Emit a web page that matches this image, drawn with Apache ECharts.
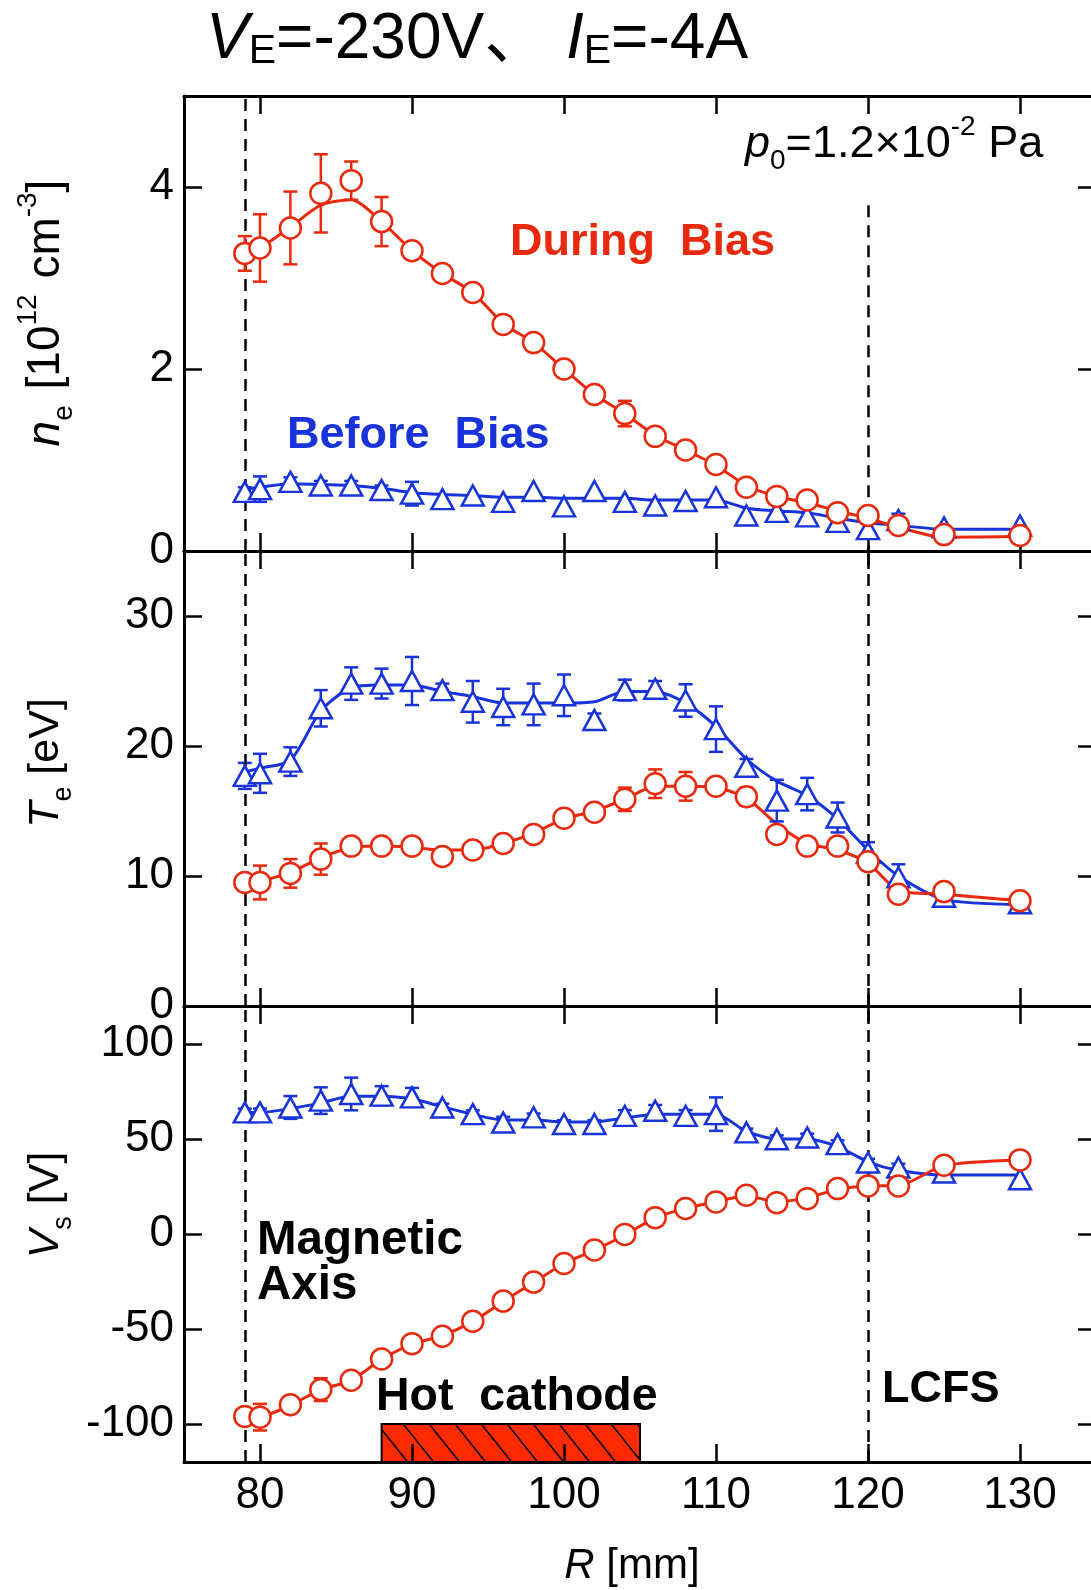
<!DOCTYPE html>
<html><head><meta charset="utf-8">
<script src="https://cdn.jsdelivr.net/npm/echarts@6/dist/echarts.min.js"></script>
<style>html,body{margin:0;padding:0;background:#fff}#c{width:1091px;height:1590px}</style>
</head><body><div id="c"></div>
<script>
// ---------- data ----------
const R = [79,80,82,84,86,88,90,92,94,96,98,100,102,104,106,108,110,112,114,116,118,120,122,125,130];
const xTickLabels = [80,90,100,110,120,130];

const neDuring    = [3.27,3.33,3.55,3.93,4.07,3.62,3.30,3.05,2.84,2.49,2.29,2.00,1.72,1.51,1.26,1.11,0.95,0.70,0.60,0.56,0.42,0.39,0.28,0.18,0.17];
const neDuringErr = [0.19,0.37,0.40,0.43,0.21,0.27,0.05,0,0,0,0,0,0,0.14,0,0,0,0,0,0,0.06,0,0,0,0];
const neDuringFit = [3.27,3.33,3.56,3.80,3.86,3.62,3.30,3.05,2.84,2.50,2.29,2.00,1.72,1.51,1.27,1.11,0.94,0.72,0.60,0.53,0.44,0.36,0.26,0.15,0.16];
const neBefore    = [0.65,0.68,0.76,0.72,0.72,0.67,0.63,0.57,0.61,0.54,0.66,0.49,0.66,0.54,0.50,0.55,0.59,0.39,0.43,0.38,0.32,0.24,0.34,0.26,0.28];
const neBeforeErr = [0.05,0.14,0.05,0.05,0.05,0.05,0.13,0,0,0,0,0,0,0,0,0,0,0,0,0,0.08,0,0.07,0,0];
const neBeforeFit = [0.68,0.70,0.74,0.73,0.72,0.69,0.64,0.62,0.61,0.59,0.59,0.58,0.58,0.58,0.56,0.56,0.56,0.47,0.44,0.42,0.36,0.31,0.28,0.24,0.24];

const teDuring    = [9.5,9.5,10.2,11.3,12.3,12.3,12.3,11.5,12.0,12.5,13.2,14.45,14.9,15.9,17.1,16.9,16.9,16.1,13.2,12.3,12.3,11.1,8.6,8.8,8.1];
const teDuringErr = [0.3,1.3,1.1,1.2,0.3,0.3,0.3,0,0,0.3,0,0,0.3,0.9,1.1,1.1,0.5,0.7,0,0.5,0,0.3,0,0,0];
const teDuringFit = [9.5,9.6,10.3,11.4,12.2,12.3,12.2,12.0,12.0,12.5,13.3,14.4,15.0,15.9,16.9,16.9,16.8,16.0,14.0,12.5,12.0,11.0,8.9,8.6,8.1];
const teBefore    = [17.7,17.9,18.8,22.9,24.8,24.8,25.0,24.3,23.4,23.0,23.2,23.9,22.0,24.3,24.4,23.5,21.3,18.4,15.8,16.3,14.5,11.8,9.9,8.4,7.9];
const teBeforeErr = [1.0,1.5,1.1,1.4,1.25,1.15,1.85,0.5,1.6,1.4,1.6,1.6,0.5,0.8,0.6,1.25,1.75,0.6,1.6,1.25,1.15,0.8,1.0,0.3,0.3];
const teBeforeFit = [18.0,18.3,18.9,22.7,24.5,24.7,24.7,24.2,23.8,23.3,23.3,23.3,23.4,24.2,24.2,23.3,21.5,19.0,17.3,16.2,14.4,12.0,10.0,8.2,7.8];

const vsDuring    = [-96.0,-96.4,-89.9,-81.9,-77.0,-65.8,-57.7,-53.8,-45.9,-35.3,-25.3,-15.5,-8.4,-0.2,8.6,13.4,16.9,20.4,16.5,18.6,23.9,25.3,25.3,36.2,39.0];
const vsDuringErr = [3,7,3,6,0,0,0,0,0,0,0,0,0,0,0,0,0,0,0,0,0,0,0,0,0];
const vsDuringFit = [-96.0,-96.0,-90.0,-82.0,-77.0,-66.0,-58.0,-53.5,-46.0,-35.5,-25.5,-15.5,-8.5,-0.5,8.5,13.5,17.0,20.0,17.0,19.0,23.5,25.3,25.5,36.0,39.0];
const vsBefore    = [64.0,64.0,66.6,70.2,73.7,72.8,71.9,66.6,63.1,58.7,61.4,57.9,57.9,62.2,64.9,62.2,63.1,53.5,49.9,50.8,47.3,37.6,35.0,32.4,28.8];
const vsBeforeErr = [2,2,6,7,8.6,5,5,2,2,3,2,2,2,3,3,3,8.8,2,2,2,2,2,2,0,0];
const vsBeforeFit = [64,64,66,69,72.5,72.5,71,67,63,60,60,59,59,61,63,63,63,54,50,50,46,38,33.5,31,31];

const neTickLabels = [0,2,4];
const teTickLabels = [0,10,20,30];
const vsTickLabels = [-100,-50,0,50,100];

const magneticAxisR = 79;
const lcfsR = 120;
const lcfsNeTop = 3.8;
const cathodeR = [88,105];
const cathodeV = [-120,-100];

// ---------- style ----------
const FONT = "'Liberation Sans', Arial, 'Noto Sans CJK JP', sans-serif";
const RED = '#e8290c', BLUE = '#1733d9';
const TICKFS = 44;

const chart = echarts.init(document.getElementById('c'));

const gridTop = [96, 551, 1006], gridH = [455, 455, 456];
const grids = gridTop.map((t,i)=>({left:184, top:t, width:912, height:gridH[i], outerBoundsMode:'none', containLabel:false}));

const ySpecs = [
  {min:0, max:5, interval:2, labels:neTickLabels},
  {min:0, max:35, interval:10, labels:teTickLabels},
  {min:-120, max:120, labels:vsTickLabels}
];

const lineS = {color:'#000', width:3};
const tickS = {color:'#000', width:2.5};
function xAx(gi, pos, showLabel){
  return {type:'value', gridIndex:gi, position:pos, min:75, max:135,
    splitLine:{show:false},
    axisLine:{show:true, onZero:false, lineStyle:lineS},
    axisTick:{show:true, inside:true, length:18, lineStyle:tickS},
    axisLabel:{show:showLabel, margin:12, fontSize:TICKFS, fontFamily:FONT, color:'#000',
      formatter: v => xTickLabels.includes(v) ? String(v) : ''}};
}
function yAx(gi, pos, spec, showLabel){
  const a = {type:'value', gridIndex:gi, position:pos, min:spec.min, max:spec.max,
    splitLine:{show:false},
    axisLine:{show:true, onZero:false, lineStyle:lineS},
    axisTick:{show:true, inside:true, length:18, lineStyle:tickS},
    axisLabel:{show:showLabel, margin:10, fontSize:TICKFS, fontFamily:FONT, color:'#000',
      formatter: v => spec.labels.includes(v) ? String(v) : ''}};
  if (spec.interval) a.interval = spec.interval;
  return a;
}
const xAxes = [], yAxes = [];
for (let g=0; g<3; g++){
  xAxes.push(xAx(g,'bottom', g===2));
  xAxes.push(xAx(g,'top', false));
  yAxes.push(yAx(g,'left', ySpecs[g], true));
  yAxes.push(yAx(g,'right', ySpecs[g], false));
}

function pairs(arr){ return R.map((r,i)=>[r, arr[i]]); }
function fit(g, arr, color, z, markLine){
  const s = {type:'line', xAxisIndex:g*2, yAxisIndex:g*2, data:pairs(arr), symbol:'none', showSymbol:false,
    smooth:0.25, lineStyle:{color, width:3}, z, animation:false, silent:true};
  if (markLine) s.markLine = markLine;
  return s;
}
function marks(g, arr, color, sym, z){
  return {type:'scatter', xAxisIndex:g*2, yAxisIndex:g*2, data:pairs(arr), symbol:sym,
    symbolSize: sym==='circle' ? 21 : [22,20],
    itemStyle:{color:'#fff', borderColor:color, borderWidth:2.5, opacity:1}, z, animation:false, silent:true};
}
function errs(g, arr, err, color, z){
  return {type:'custom', xAxisIndex:g*2, yAxisIndex:g*2, z, animation:false, silent:true,
    data: R.map((r,i)=>[r, arr[i], err[i]]),
    renderItem:(p, api)=>{
      const x=api.value(0), y=api.value(1), e=api.value(2);
      if (!e) return null;
      const a=api.coord([x,y+e]), b=api.coord([x,y-e]);
      const hw=7, st={stroke:color, lineWidth:2.5};
      return {type:'group', children:[
        {type:'line', shape:{x1:a[0],y1:a[1],x2:b[0],y2:b[1]}, style:st},
        {type:'line', shape:{x1:a[0]-hw,y1:a[1],x2:a[0]+hw,y2:a[1]}, style:st},
        {type:'line', shape:{x1:b[0]-hw,y1:b[1],x2:b[0]+hw,y2:b[1]}, style:st}]};
    }};
}
const dashStyle = {color:'#000', width:2.5, type:[12,8]};
function ml(data){ return {symbol:'none', silent:true, label:{show:false}, lineStyle:dashStyle, animation:false, data}; }

const series = [];
const panels = [
  [neBeforeFit, neBefore, neBeforeErr, neDuringFit, neDuring, neDuringErr,
    ml([{xAxis:magneticAxisR}, [{coord:[lcfsR, lcfsNeTop]}, {coord:[lcfsR, 0]}]])],
  [teBeforeFit, teBefore, teBeforeErr, teDuringFit, teDuring, teDuringErr,
    ml([{xAxis:magneticAxisR}, {xAxis:lcfsR}])],
  [vsBeforeFit, vsBefore, vsBeforeErr, vsDuringFit, vsDuring, vsDuringErr,
    ml([{xAxis:magneticAxisR}, {xAxis:lcfsR}])]
];
panels.forEach((p,g)=>{
  series.push(fit(g, p[0], BLUE, 2, p[6]));
  series.push(fit(g, p[3], RED, 3));
  series.push(errs(g, p[1], p[2], BLUE, 4));
  series.push(marks(g, p[1], BLUE, 'triangle', 5));
  series.push(errs(g, p[4], p[5], RED, 6));
  series.push(marks(g, p[4], RED, 'circle', 7));
});

// hot cathode hatched bar
series.push({type:'custom', xAxisIndex:4, yAxisIndex:4, z:-1, animation:false, silent:true,
  data:[[cathodeR[0], cathodeR[1], cathodeV[0], cathodeV[1]]],
  renderItem:(p, api)=>{
    const tl = api.coord([api.value(0), api.value(3)]);
    const br = api.coord([api.value(1), api.value(2)]);
    const L=tl[0], T=tl[1], Rr=br[0], B=br[1], h=B-T;
    const kids = [{type:'rect', shape:{x:L, y:T, width:Rr-L, height:h}, style:{fill:'#ff2a00', stroke:'none'}}];
    const t = 0.8, sp = 26;
    for (let c = L - h*t; c < Rr; c += sp){
      let y1 = T, x1 = c, y2 = B, x2 = c + h*t;
      if (x1 < L){ y1 = T + (L - c)/t; x1 = L; }
      if (x2 > Rr){ y2 = T + (Rr - c)/t; x2 = Rr; }
      if (y2 > y1) kids.push({type:'line', shape:{x1,y1,x2,y2}, style:{stroke:'#000', lineWidth:1.5}});
    }
    kids.push({type:'rect', shape:{x:L, y:T, width:Rr-L, height:h}, style:{fill:'none', stroke:'#000', lineWidth:2}});
    return {type:'group', children:kids};
  }});

// ---------- text helpers ----------
const mctx = document.createElement('canvas').getContext('2d');
function tw(text, size, it, bold){
  mctx.font = `${it?'italic':'normal'} ${bold?'bold':'normal'} ${size}px ${FONT}`;
  return mctx.measureText(text).width;
}
function build(pieces, color){
  let x = 0; const out = [];
  for (const p of pieces){
    const s = p.size;
    out.push({type:'text', x, y:(p.dy||0) - 0.35*s,
      style:{text:p.t, fontSize:s, fontFamily:FONT, fontStyle:p.it?'italic':'normal', fontWeight:p.bold?'bold':'normal',
        fill:color||'#000', align:'left', verticalAlign:'middle', textAlign:'left', textVerticalAlign:'middle'}});
    x += tw(p.t, s, p.it, p.bold) + (p.gap||0);
  }
  return {out, w:x};
}
function richH(pieces, left, baseline, color){
  const b = build(pieces, color);
  return {type:'group', x:left, y:baseline, children:b.out, silent:true};
}
function richHC(pieces, cx, baseline, color){
  const b = build(pieces, color);
  return {type:'group', x:cx - b.w/2, y:baseline, children:b.out, silent:true};
}
function richV(pieces, bx, cy, color){
  const b = build(pieces, color);
  b.out.forEach(o=>{ o.x -= b.w/2; });
  return {type:'group', x:bx, y:cy, rotation:Math.PI/2, children:b.out, silent:true};
}
function boldText(t, left, cy, color, size){
  return {type:'text', x:left, y:cy, silent:true,
    style:{text:t, fontSize:size||45, fontWeight:'bold', fontFamily:FONT, fill:color||'#000',
      align:'left', verticalAlign:'middle', textAlign:'left', textVerticalAlign:'middle'}};
}

const M = 43, S = 27;
const graphics = [
  richH([{t:'V',size:64,it:true},{t:'E',size:41,dy:3},{t:'=-230V、 ',size:64},{t:'I',size:64,it:true},{t:'E',size:41,dy:3},{t:'=-4A',size:64}], 206, 63),
  richV([{t:'n',size:46,it:true},{t:'e',size:28,dy:12,gap:3},{t:' [10',size:46},{t:'12',size:28,dy:-24,gap:3},{t:' cm',size:46},{t:'-3',size:28,dy:-24},{t:']',size:46}], 62, 313),
  richV([{t:'T',size:M,it:true},{t:'e',size:S,dy:12},{t:' [eV]',size:M}], 61, 763),
  richV([{t:'V',size:M,it:true},{t:'s',size:S,dy:12},{t:' [V]',size:M}], 61, 1205),
  richHC([{t:'R',size:42,it:true},{t:' [mm]',size:42}], 632, 1581),
  richH([{t:'p',size:45,it:true},{t:'0',size:28,dy:11},{t:'=1.2×10',size:45},{t:'-2',size:28,dy:-23},{t:' Pa',size:45}], 745, 160),
  boldText('During  Bias', 510, 243, RED),
  boldText('Before  Bias', 287, 436, BLUE),
  boldText('Magnetic', 257, 1241, '#000', 47.5),
  boldText('Axis', 257, 1286, '#000', 47.5),
  boldText('Hot  cathode', 376, 1397, '#000', 46.5),
  boldText('LCFS', 882, 1390)
];

chart.setOption({
  animation:false,
  backgroundColor:'#fff',
  grid: grids,
  xAxis: xAxes,
  yAxis: yAxes,
  series,
  graphic: graphics
});
</script>
</body></html>
